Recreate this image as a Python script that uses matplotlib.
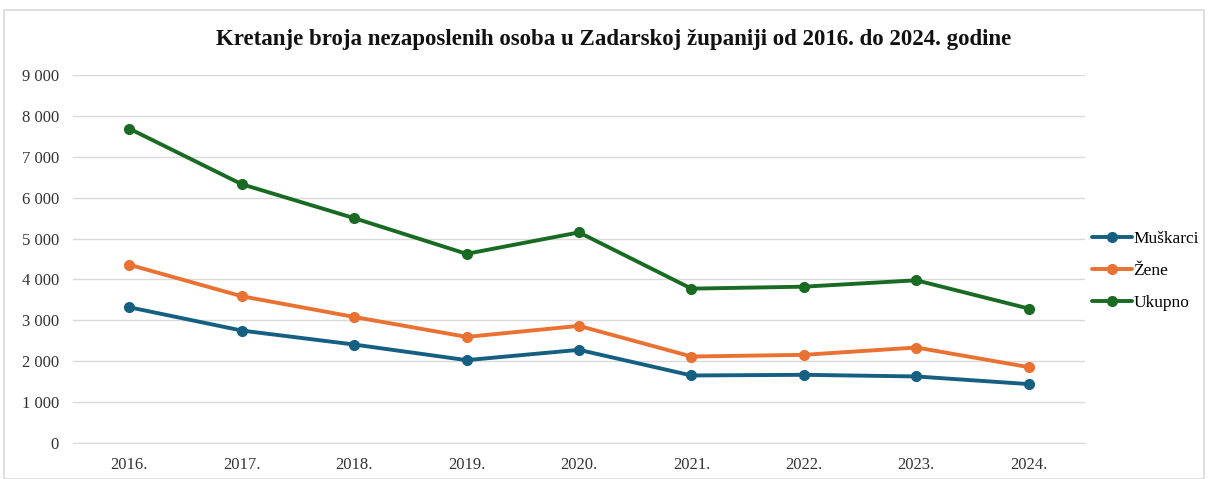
import matplotlib.pyplot as plt
from matplotlib.patches import Rectangle
from matplotlib.ticker import FuncFormatter

# Podaci (očitani s grafikona)
godine = ['2016.', '2017.', '2018.', '2019.', '2020.', '2021.', '2022.', '2023.', '2024.']
muskarci = [3320, 2750, 2408, 2026, 2278, 1651, 1667, 1627, 1440]
zene = [4360, 3589, 3083, 2595, 2864, 2115, 2156, 2335, 1855]
ukupno = [7690, 6330, 5500, 4626, 5151, 3775, 3823, 3979, 3287]

plt.rcParams['font.family'] = ['Liberation Serif', 'DejaVu Serif']

fig = plt.figure(figsize=(12.08, 4.79), dpi=100)
ax = fig.add_axes([0.0604, 0.0752, 0.8378, 0.7682])

# okvir grafikona
fig.patches.append(Rectangle((4 / 1208, 0), 1200 / 1208, 1 - 10 / 479,
                             transform=fig.transFigure, fill=False,
                             edgecolor='#D9D9D9', linewidth=1.2))

x = range(len(godine))
serije = [('Muškarci', muskarci, '#156082'),
          ('Žene', zene, '#E97132'),
          ('Ukupno', ukupno, '#196B24')]
for naziv, vrijednosti, boja in serije:
    ax.plot(x, vrijednosti, color=boja, linewidth=2.8, marker='o',
            markersize=7, label=naziv, solid_capstyle='round')

ax.set_xlim(-0.5, len(godine) - 0.5)
ax.set_ylim(0, 9000)
ax.set_yticks(range(0, 9001, 1000))
ax.yaxis.set_major_formatter(FuncFormatter(lambda v, p: f'{int(v):,}'.replace(',', ' ')))
ax.set_xticks(list(x))
ax.set_xticklabels(godine)

ax.grid(axis='y', color='#D9D9D9', linewidth=1)
ax.set_axisbelow(True)
for s in ['top', 'right', 'left']:
    ax.spines[s].set_visible(False)
ax.spines['bottom'].set_color('#D9D9D9')
ax.tick_params(axis='both', length=0, labelsize=12, colors='#333333')
ax.tick_params(axis='y', pad=10)
ax.tick_params(axis='x', pad=10)

fig.text(614 / 1208, 1 - 40 / 479,
         'Kretanje broja nezaposlenih osoba u Zadarskoj županiji od 2016. do 2024. godine',
         ha='center', va='center', fontsize=16.5, fontweight='bold', color='#111111')

ax.legend(loc='center left', frameon=False, fontsize=12.5,
          handlelength=2.3, handletextpad=0.1, labelspacing=0.9)
leg = ax.get_legend()
leg.set_bbox_to_anchor((1076 / 1208, 1 - 271 / 479), transform=fig.transFigure)

fig.savefig('out.png', dpi=100)
